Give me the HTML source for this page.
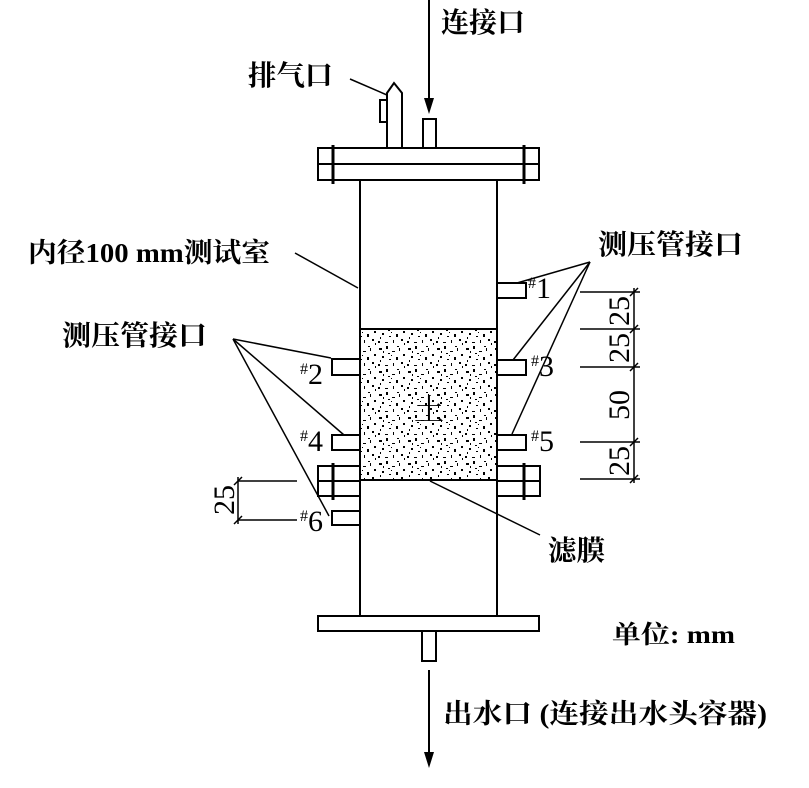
<!DOCTYPE html>
<html><head><meta charset="utf-8"><style>
html,body{margin:0;padding:0;background:#fff}
svg{display:block}
text{font-family:"Liberation Serif","Noto Serif CJK SC",serif;fill:#000}
.b{font-weight:bold}
</style></head><body>
<svg width="809" height="788" viewBox="0 0 809 788" xmlns="http://www.w3.org/2000/svg">
<defs>
<pattern id="dots" width="29" height="23" patternUnits="userSpaceOnUse">
<rect x="2" y="3" width="3" height="2" fill="#000"/><rect x="9" y="1" width="2" height="3" fill="#000"/>
<rect x="15" y="6" width="3" height="1" fill="#000"/><rect x="22" y="3" width="1" height="3" fill="#000"/>
<rect x="5" y="11" width="2" height="2" fill="#000"/><rect x="12" y="14" width="2" height="1" fill="#000"/>
<rect x="19" y="12" width="2" height="3" fill="#000"/><rect x="26" y="9" width="2" height="2" fill="#000"/>
<rect x="1" y="19" width="2" height="2" fill="#000"/><rect x="8" y="20" width="3" height="1" fill="#000"/>
<rect x="16" y="18" width="1" height="3" fill="#000"/><rect x="24" y="17" width="2" height="2" fill="#000"/>
<rect x="11" y="8" width="2" height="1" fill="#000"/><rect x="27" y="21" width="1" height="2" fill="#000"/>
<rect x="6" y="6" width="1" height="2" fill="#000"/><rect x="20" y="1" width="2" height="1" fill="#000"/>
<rect x="14" y="10" width="1" height="1" fill="#000"/><rect x="3" y="15" width="1" height="2" fill="#000"/>
</pattern>
</defs>
<g stroke="#000" stroke-width="2" fill="none">
<line x1="360" y1="180" x2="360" y2="616"/>
<line x1="497" y1="180" x2="497" y2="616"/>
<rect x="318" y="148" width="221" height="32"/>
<line x1="318" y1="164" x2="539" y2="164"/>
<line x1="333" y1="145" x2="333" y2="184" stroke-width="3"/>
<line x1="524" y1="145" x2="524" y2="184" stroke-width="3"/>
<path d="M387 148 V93 L394 83 L402 93 V148"/>
<path d="M387 100 H380 V122 H387"/>
<line x1="350" y1="79" x2="387" y2="95" stroke-width="1.5"/>
<rect x="423" y="119" width="13" height="29"/>
<line x1="429" y1="0" x2="429" y2="100"/>
<rect x="360" y="329" width="137" height="151" fill="url(#dots)" stroke-width="2"/>
<rect x="497" y="283" width="29" height="15"/>
<rect x="332" y="359" width="28" height="16"/>
<rect x="497" y="360" width="29" height="15"/>
<rect x="332" y="435" width="28" height="15"/>
<rect x="497" y="435" width="29" height="15"/>
<rect x="332" y="511" width="28" height="14"/>
<rect x="318" y="466" width="42" height="30"/>
<line x1="318" y1="481" x2="360" y2="481"/>
<line x1="333" y1="463" x2="333" y2="500" stroke-width="3"/>
<rect x="497" y="466" width="43" height="30"/>
<line x1="497" y1="481" x2="540" y2="481"/>
<line x1="524" y1="463" x2="524" y2="500" stroke-width="3"/>
<rect x="318" y="616" width="221" height="15"/>
<rect x="422" y="631" width="14" height="30"/>
<line x1="429" y1="670" x2="429" y2="755"/>
<g stroke-width="1.5">
<line x1="295" y1="253" x2="358" y2="288"/>
<line x1="590" y1="262" x2="517" y2="283"/>
<line x1="590" y1="262" x2="513" y2="360"/>
<line x1="590" y1="262" x2="512" y2="434"/>
<line x1="233" y1="339" x2="331" y2="358"/>
<line x1="233" y1="339" x2="344" y2="435"/>
<line x1="233" y1="339" x2="329" y2="516"/>
<line x1="430" y1="481" x2="540" y2="535"/>
<line x1="580" y1="292" x2="640" y2="292"/>
<line x1="580" y1="329" x2="640" y2="329"/>
<line x1="580" y1="367" x2="640" y2="367"/>
<line x1="580" y1="442" x2="640" y2="442"/>
<line x1="580" y1="479" x2="640" y2="479"/>
<line x1="634" y1="288" x2="634" y2="483"/>
<line x1="238" y1="481" x2="297" y2="481"/>
<line x1="238" y1="520" x2="297" y2="520"/>
<line x1="238" y1="477" x2="238" y2="524"/>
</g>
<g stroke-width="1.5">
<line x1="630" y1="296" x2="638" y2="288"/><line x1="630" y1="333" x2="638" y2="325"/>
<line x1="630" y1="371" x2="638" y2="363"/><line x1="630" y1="446" x2="638" y2="438"/>
<line x1="630" y1="483" x2="638" y2="475"/>
<line x1="234" y1="485" x2="242" y2="477"/><line x1="234" y1="524" x2="242" y2="516"/>
</g>
</g>
<polygon points="424,98 434,98 429,114" fill="#000"/>
<polygon points="424,752 434,752 429,768" fill="#000"/>
<g class="b">
<text x="441" y="32" font-size="28" textLength="84" lengthAdjust="spacingAndGlyphs">连接口</text>
<text x="248" y="85" font-size="28" textLength="85" lengthAdjust="spacingAndGlyphs">排气口</text>
<text x="28" y="262" font-size="27" textLength="242" lengthAdjust="spacingAndGlyphs">内径100 mm测试室</text>
<text x="598" y="254" font-size="28" textLength="145" lengthAdjust="spacingAndGlyphs">测压管接口</text>
<text x="62" y="345" font-size="28" textLength="145" lengthAdjust="spacingAndGlyphs">测压管接口</text>
<text x="548" y="560" font-size="28" textLength="57" lengthAdjust="spacingAndGlyphs">滤膜</text>
<text x="612" y="643" font-size="25" textLength="123" lengthAdjust="spacingAndGlyphs">单位: mm</text>
<text x="443" y="723" font-size="27" textLength="324" lengthAdjust="spacingAndGlyphs">出水口 (连接出水头容器)</text>
</g>
<text x="414" y="420" font-size="30">土</text>
<g font-size="30">
<text x="528" y="298"><tspan font-size="16" dy="-10">#</tspan><tspan dy="10">1</tspan></text>
<text x="300" y="384"><tspan font-size="16" dy="-10">#</tspan><tspan dy="10">2</tspan></text>
<text x="531" y="376"><tspan font-size="16" dy="-10">#</tspan><tspan dy="10">3</tspan></text>
<text x="300" y="451"><tspan font-size="16" dy="-10">#</tspan><tspan dy="10">4</tspan></text>
<text x="531" y="451"><tspan font-size="16" dy="-10">#</tspan><tspan dy="10">5</tspan></text>
<text x="300" y="531"><tspan font-size="16" dy="-10">#</tspan><tspan dy="10">6</tspan></text>
<text transform="translate(629,311) rotate(-90)" text-anchor="middle">25</text>
<text transform="translate(629,348) rotate(-90)" text-anchor="middle">25</text>
<text transform="translate(629,405) rotate(-90)" text-anchor="middle">50</text>
<text transform="translate(629,461) rotate(-90)" text-anchor="middle">25</text>
<text transform="translate(234,500) rotate(-90)" text-anchor="middle">25</text>
</g>
</svg>
</body></html>
